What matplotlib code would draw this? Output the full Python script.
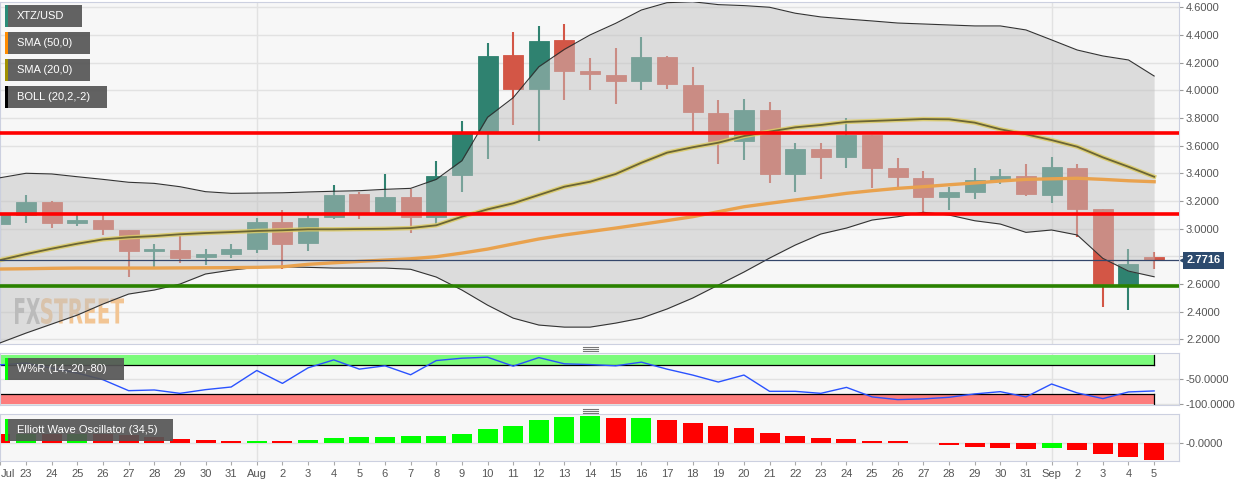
import numpy as np
import matplotlib.pyplot as plt
from matplotlib.patches import Rectangle, PathPatch
from matplotlib.lines import Line2D
from matplotlib.textpath import TextPath
from matplotlib.font_manager import FontProperties
from matplotlib.transforms import Affine2D, blended_transform_factory

plt.rcParams['font.family'] = ['Liberation Sans', 'DejaVu Sans']

## Data (XTZ/USD daily, Jul 22 - Sep 5)
day_labels = ['Jul', '23', '24', '25', '26', '27', '28', '29', '30', '31',
              'Aug', '2', '3', '4', '5', '6', '7', '8', '9', '10', '11', '12',
              '13', '14', '15', '16', '17', '18', '19', '20', '21', '22', '23',
              '24', '25', '26', '27', '28', '29', '30', '31',
              'Sep', '2', '3', '4', '5']

opens = [3.03, 3.10, 3.19, 3.04, 3.06, 2.99, 2.836, 2.843, 2.793, 2.815,
         2.85, 3.045, 2.895, 3.082, 3.248, 3.12, 3.228, 3.086, 3.387, 3.70,
         4.253, 4.007, 4.363, 4.139, 4.11, 4.065, 4.238, 4.04, 3.838, 3.631,
         3.857, 3.392, 3.575, 3.518, 3.677, 3.436, 3.366, 3.226, 3.267, 3.351,
         3.382, 3.245, 3.44, 3.144, 2.60, 2.79]
highs = [3.15, 3.24, 3.20, 3.095, 3.10, 2.99, 2.89, 2.945, 2.85, 2.89,
         3.075, 3.135, 3.10, 3.315, 3.267, 3.395, 3.284, 3.486, 3.78, 4.34,
         4.42, 4.465, 4.48, 4.233, 4.306, 4.388, 4.248, 4.168, 3.93, 3.937,
         3.915, 3.617, 3.617, 3.80, 3.68, 3.51, 3.416, 3.30, 3.438, 3.43,
         3.467, 3.518, 3.467, 3.144, 2.852, 2.83]
lows = [2.92, 3.04, 3.005, 3.02, 2.955, 2.65, 2.72, 2.755, 2.74, 2.79,
        2.826, 2.705, 2.84, 3.07, 3.07, 3.12, 2.97, 3.033, 3.267, 3.50,
        3.75, 3.63, 3.93, 4.00, 3.903, 4.00, 4.01, 3.70, 3.47, 3.498,
        3.332, 3.267, 3.36, 3.44, 3.296, 3.293, 3.115, 3.137, 3.214, 3.325,
        3.236, 3.185, 2.942, 2.435, 2.41, 2.706]
closes = [3.11, 3.19, 3.04, 3.065, 2.995, 2.835, 2.845, 2.79, 2.814, 2.85,
          3.045, 2.89, 3.077, 3.245, 3.12, 3.228, 3.082, 3.38, 3.69, 4.25,
          4.007, 4.358, 4.142, 4.116, 4.067, 4.238, 4.043, 3.843, 3.635, 3.855,
          3.392, 3.575, 3.52, 3.677, 3.44, 3.373, 3.226, 3.265, 3.351, 3.382,
          3.248, 3.443, 3.144, 2.60, 2.746, 2.7716]

boll_upper = [3.368, 3.400, 3.395, 3.375, 3.356, 3.335, 3.327, 3.303, 3.267, 3.255,
              3.257, 3.259, 3.265, 3.270, 3.274, 3.284, 3.291, 3.356, 3.491, 3.805,
              3.946, 4.170, 4.296, 4.400, 4.484, 4.580, 4.633, 4.640, 4.619, 4.612,
              4.600, 4.557, 4.530, 4.515, 4.501, 4.486, 4.479, 4.472, 4.465, 4.465,
              4.436, 4.364, 4.291, 4.248, 4.219, 4.103]
boll_lower = [2.175, 2.245, 2.310, 2.375, 2.455, 2.527, 2.556, 2.599, 2.672, 2.700,
              2.720, 2.724, 2.720, 2.715, 2.715, 2.715, 2.706, 2.650, 2.556, 2.447,
              2.353, 2.303, 2.288, 2.288, 2.317, 2.353, 2.419, 2.498, 2.592, 2.686,
              2.787, 2.881, 2.961, 3.004, 3.062, 3.086, 3.118, 3.098, 3.057, 3.033,
              2.973, 2.990, 2.954, 2.785, 2.693, 2.652]
sma20 = [2.773, 2.816, 2.855, 2.891, 2.922, 2.937, 2.946, 2.959, 2.968, 2.975,
         2.983, 2.988, 2.995, 2.995, 2.997, 2.999, 3.004, 3.024, 3.086, 3.139,
         3.183, 3.243, 3.303, 3.339, 3.395, 3.476, 3.549, 3.588, 3.621, 3.669,
         3.701, 3.732, 3.749, 3.771, 3.778, 3.785, 3.792, 3.790, 3.766, 3.718,
         3.682, 3.640, 3.592, 3.515, 3.447, 3.375]
sma50 = [2.708, 2.710, 2.713, 2.715, 2.715, 2.715, 2.715, 2.716, 2.717, 2.718,
         2.720, 2.724, 2.742, 2.753, 2.763, 2.773, 2.782, 2.797, 2.823, 2.852,
         2.889, 2.925, 2.954, 2.979, 3.004, 3.031, 3.058, 3.086, 3.122, 3.158,
         3.183, 3.207, 3.230, 3.255, 3.274, 3.291, 3.303, 3.317, 3.330, 3.344,
         3.356, 3.360, 3.364, 3.356, 3.346, 3.339]

resistance = [3.69, 3.105]
support = [2.583]

williams_r = [-19.6, -16, -26.4, -36.7, -50.5, -73.2, -71.8, -78.8, -71.1, -65.6,
              -31.3, -58.1, -25.8, -9.3, -28.5, -21.6, -40.2, -10.7, -5.8, -3.7,
              -22.3, -4.5, -17.5, -19, -21.6, -14, -28.5, -40.8, -55.3, -40.8,
              -74.6, -74.6, -78.8, -66.4, -86.2, -91.8, -90.3, -87, -80, -75.3,
              -86.2, -59.4, -77.9, -89.7, -75.9, -73.8]

ewo = [0.095, 0.092, 0.090, 0.091, 0.089, 0.086, 0.063, 0.047, 0.033, 0.020,
       0.027, 0.023, 0.037, 0.053, 0.063, 0.063, 0.070, 0.077, 0.093, 0.143,
       0.173, 0.233, 0.263, 0.273, 0.253, 0.253, 0.230, 0.207, 0.173, 0.157,
       0.103, 0.073, 0.050, 0.047, 0.023, 0.020, 0.003, -0.020, -0.040, -0.050,
       -0.060, -0.050, -0.063, -0.103, -0.140, -0.163]
ewo_up = [0, 1, 0, 1, 0, 0, 0, 0, 0, 0,
          1, 0, 1, 1, 1, 1, 1, 1, 1, 1,
          1, 1, 1, 1, 0, 1, 0, 0, 0, 0,
          0, 0, 0, 0, 0, 0, 0, 0, 0, 0,
          0, 1, 0, 0, 0, 0]

price_ticks = [2.2, 2.4, 2.6, 2.8, 3.0, 3.2, 3.4, 3.6, 3.8, 4.0, 4.2, 4.4, 4.6]

## Figure
W, H = 1244, 487
fig = plt.figure(figsize=(W / 100, H / 100), dpi=100)
fig.patch.set_facecolor('white')


def fbox(x0, y0, x1, y1):
    return [x0 / W, 1 - y1 / H, (x1 - x0) / W, (y1 - y0) / H]


ax = fig.add_axes(fbox(0, 2, 1179, 344))
ax_wr = fig.add_axes(fbox(0, 353, 1179, 405), sharex=ax)
ax_ew = fig.add_axes(fbox(0, 414, 1179, 461), sharex=ax)

BG = '#f7f7f7'
GRID = '#e2e2e2'
SPINE = '#ccd0e0'
GREEN = '#2f8270'
RED = '#d35646'

x = np.arange(len(closes))
xlim = (-0.016, 45.97)

for a in (ax, ax_wr, ax_ew):
    a.set_facecolor(BG)
    for s in a.spines.values():
        s.set_color(SPINE)
    a.yaxis.tick_right()
    a.tick_params(axis='y', length=3, color='#999999', labelcolor='#555555',
                  labelsize=8, pad=2)
    a.grid(axis='y', color=GRID, lw=1)
    a.set_axisbelow(True)
    for m in (10, 41):
        a.axvline(m, color=GRID, lw=1, zorder=0.5)

## Main price panel
for i in x:
    col = GREEN if closes[i] >= opens[i] else RED
    ax.vlines(i, lows[i], highs[i], color=col, lw=1.5, zorder=2)
    lo, hi = sorted((opens[i], closes[i]))
    hi = max(hi, lo + 0.02)
    ax.add_patch(Rectangle((i - 0.39, lo), 0.78, hi - lo, fc=col, ec=col,
                           lw=0.6, zorder=2))

ax.fill_between(x, boll_lower, boll_upper, color='#c2c2c2', alpha=0.5, lw=0, zorder=3)
ax.plot(x, boll_upper, color='#333333', lw=0.8, zorder=4)
ax.plot(x, boll_lower, color='#333333', lw=0.8, zorder=4)
ax.plot(x, sma20, color='#ddcc66', lw=3.2, alpha=0.85, zorder=5)
ax.plot(x, sma20, color='#6b6535', lw=1.3, zorder=5.1)
ax.plot(x, sma50, color='#e9a24e', lw=2.4, zorder=5)

for lvl in resistance:
    ax.axhline(lvl, color='#ff0000', lw=2.6, zorder=6)
for lvl in support:
    ax.axhline(lvl, color='#2a8200', lw=2.6, zorder=6)

last = closes[-1]
ax.axhline(last, color='#34466b', lw=0.9, zorder=6)
bt = blended_transform_factory(ax.transAxes, ax.transData)
ax.text(1.0065, last, f'{last:.4f}', transform=bt, color='white', fontsize=8,
        fontweight='bold', va='center', ha='left', zorder=10,
        bbox=dict(boxstyle='square,pad=0.3', fc='#2c4a6e', ec='none'))
ax.plot([1.0035], [last], marker='<', ms=5, color='#2c4a6e', transform=bt,
        clip_on=False, zorder=10)

ax.set_ylim(2.166, 4.638)
ax.set_yticks(price_ticks)
# the 2.8000 label sits under the last-price box in the original
ax.set_yticklabels(['' if abs(v - 2.8) < 1e-9 else f'{v:.4f}' for v in price_ticks])

# watermark
fp = FontProperties(family='DejaVu Sans', weight='bold')
for txt, col, x0, x1 in (('FX', '#b4b4b4', 15, 40), ('STREET', '#f2c594', 41, 124)):
    tp = TextPath((0, 0), txt, size=1, prop=fp)
    bb = tp.get_extents()
    tr = (Affine2D().translate(-bb.x0, -bb.y0)
          .scale(((x1 - x0) / W) / bb.width, (26 / H) / bb.height)
          .translate(x0 / W, 1 - 324 / H) + fig.transFigure)
    ax.add_patch(PathPatch(tp, transform=tr, fc=col, ec='none', zorder=1, clip_on=False))

## Williams %R panel
ax_wr.fill_between([xlim[0], 45], -20, 0, color='#7bfb7b', lw=0, zorder=1)
ax_wr.fill_between([xlim[0], 45], -100, -80, color='#fd7d7d', lw=0, zorder=1)
ax_wr.plot([xlim[0], 45], [-20, -20], color='black', lw=0.9, zorder=2)
ax_wr.plot([xlim[0], 45], [-80, -80], color='black', lw=0.9, zorder=2)
ax_wr.plot([45, 45], [-20, 0], color='black', lw=0.9, zorder=2)
ax_wr.plot([45, 45], [-100, -80], color='black', lw=0.9, zorder=2)
ax_wr.plot(x, williams_r, color='#2a52ff', lw=1, zorder=3)
ax_wr.set_ylim(-103, 5)
ax_wr.set_yticks([-50, -100])
ax_wr.set_yticklabels(['-50.0000', '-100.0000'])

## Elliott Wave Oscillator panel
ax_ew.bar(x, ewo, width=0.78, color=['#00ff00' if u else '#ff0000' for u in ewo_up],
          zorder=2)
ax_ew.set_ylim(-0.177, 0.293)
ax_ew.set_yticks([0])
ax_ew.set_yticklabels(['-0.0000'])

## x axis
ax.set_xlim(*xlim)
for a in (ax, ax_wr):
    a.tick_params(axis='x', bottom=False, labelbottom=False)
ax_ew.set_xticks(x)
ax_ew.set_xticklabels(day_labels)
ax_ew.tick_params(axis='x', length=3, color='#aaaaaa', labelcolor='#555555',
                  labelsize=8, pad=3)
# first label sits against the left edge
ax_ew.get_xticklabels()[0].set_ha('left')

## Legend tags


def tag(x0, y0, x1, y1, strip, text):
    fig.add_artist(Rectangle((x0 / W, 1 - y1 / H), (x1 - x0) / W, (y1 - y0) / H,
                             transform=fig.transFigure, fc='#555555', alpha=0.92,
                             ec='none', zorder=10))
    fig.add_artist(Rectangle((x0 / W, 1 - y1 / H), 3 / W, (y1 - y0) / H,
                             transform=fig.transFigure, fc=strip, ec='none', zorder=11))
    fig.text((x0 + 12) / W, 1 - (y0 + y1) / 2 / H, text, color='white', fontsize=8,
             va='center', ha='left', zorder=12)


tag(5, 5, 82, 27, '#2a8c78', 'XTZ/USD')
tag(5, 32, 90, 54, '#ff8c00', 'SMA (50,0)')
tag(5, 59, 90, 81, '#a09000', 'SMA (20,0)')
tag(5, 86, 107, 108, '#000000', 'BOLL (20,2,-2)')
tag(5, 358, 124, 380, '#00ff00', 'W%R (14,-20,-80)')
tag(5, 419, 173, 441, '#00ff00', 'Elliott Wave Oscillator (34,5)')

# panel drag handles
for yy in (346.5, 348.5, 350.5, 408.5, 410.5, 412.5):
    fig.add_artist(Line2D([583 / W, 598 / W], [1 - yy / H, 1 - yy / H],
                          color='#777777', lw=0.8))

fig.savefig('out.png', dpi=100, facecolor='white')
